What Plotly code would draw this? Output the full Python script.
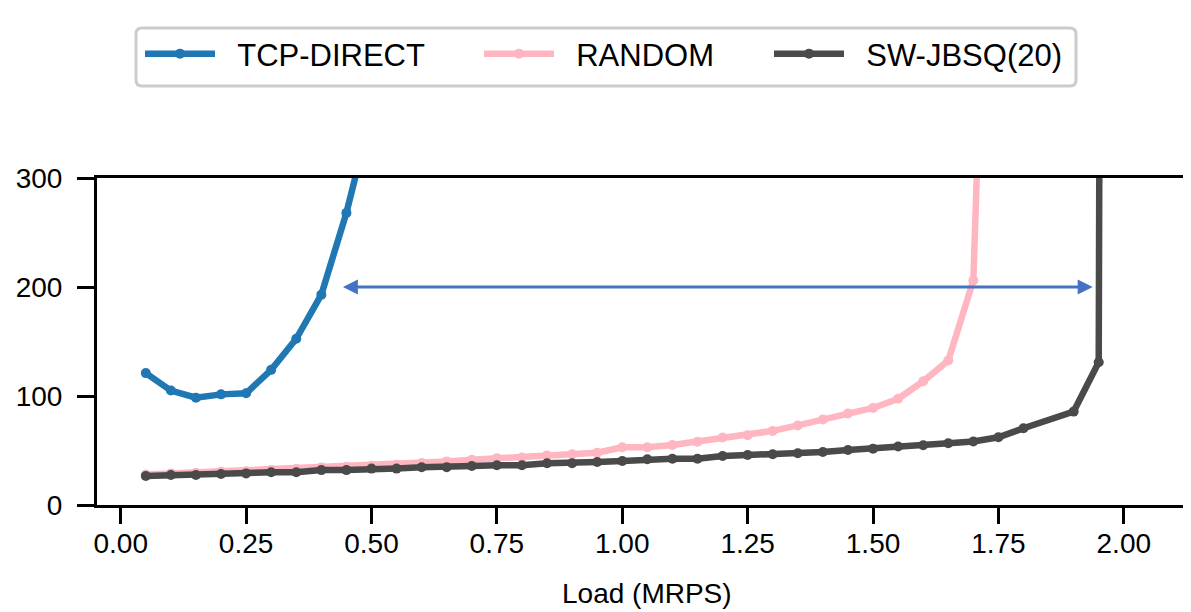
import plotly.graph_objects as go

# ---- data ----
tcp_x = [0.05, 0.10, 0.15, 0.20, 0.25, 0.30, 0.35, 0.40, 0.45, 0.50]
tcp_y = [121, 105, 98.5, 101.5, 102.5, 124, 152.5, 193, 268, 360]

random_x = [0.05, 0.10, 0.15, 0.20, 0.25, 0.30, 0.35, 0.40, 0.45, 0.50,
            0.55, 0.60, 0.65, 0.70, 0.75, 0.80, 0.85, 0.90, 0.95, 1.00,
            1.05, 1.10, 1.15, 1.20, 1.25, 1.30, 1.35, 1.40, 1.45, 1.50,
            1.55, 1.60, 1.65, 1.70, 1.75]
random_y = [28, 29, 29.5, 30.5, 31, 32, 33, 34.5, 35, 36,
            37, 38.5, 40, 41.5, 43, 43.5, 45.5, 46.5, 48, 53,
            53, 55, 58, 62, 64, 68, 73, 78.5, 84, 89,
            97.5, 113.5, 132.5, 206, 900]

jbsq_x = [0.05, 0.10, 0.15, 0.20, 0.25, 0.30, 0.35, 0.40, 0.45, 0.50,
          0.55, 0.60, 0.65, 0.70, 0.75, 0.80, 0.85, 0.90, 0.95, 1.00,
          1.05, 1.10, 1.15, 1.20, 1.25, 1.30, 1.35, 1.40, 1.45, 1.50,
          1.55, 1.60, 1.65, 1.70, 1.75, 1.80, 1.90, 1.95, 2.00]
jbsq_y = [26.6, 27.5, 27.5, 28.5, 29, 30, 30, 32, 32, 33.4,
          33.4, 34.6, 34.6, 35.8, 36.4, 36.4, 38.3, 38.3, 39.5, 40.4,
          41.9, 42.5, 42.5, 45, 45.9, 46.5, 47.4, 48.7, 50.5, 51.7,
          53.6, 54.8, 56.6, 58.2, 62.1, 70.4, 85.7, 131, 8000]

series_names = ["TCP-DIRECT", "RANDOM", "SW-JBSQ(20)"]
series_colors = ["#1f77b4", "#ffb6c1", "#4a4a4a"]

x_ticks = [0.0, 0.25, 0.5, 0.75, 1.0, 1.25, 1.5, 1.75, 2.0]
y_ticks = [0, 100, 200, 300]

arrow_y = 200
arrow_x_start = 0.44
arrow_x_end = 1.938

FONT = "Liberation Sans, Arial, Helvetica, sans-serif"
NB = "\u00a0\u00a0"  # gap between legend symbol and label

# page layout (the HTML body adds an 8px margin around the figure)
OFF = 8
W, H = 1191 - OFF, 612 - OFF
ml = 97 - OFF
mt = 178 - OFF
mr = 0
mb = H - (505 - OFF)
pw = W - ml - mr
ph = H - mt - mb

def px2paper_x(px):   # px in page coordinates
    return (px - OFF - ml) / pw

def py2paper_y(py):   # py in page coordinates
    return (H - mb - (py - OFF)) / ph

fig = go.Figure()
legends = ["legend", "legend2", "legend3"]
for xs, ys, name, col, lg in zip([tcp_x, random_x, jbsq_x],
                                 [tcp_y, random_y, jbsq_y],
                                 series_names, series_colors, legends):
    fig.add_trace(go.Scatter(
        x=xs, y=ys, name=NB + name, mode="lines+markers",
        line=dict(color=col, width=6.5),
        marker=dict(color=col, size=10),
        cliponaxis=True, legend=lg,
    ))

# double-headed arrow
fig.add_annotation(
    x=arrow_x_end, y=arrow_y, ax=arrow_x_start, ay=arrow_y,
    xref="x", yref="y", axref="x", ayref="y",
    text="", showarrow=True, arrowside="end+start",
    arrowhead=2, startarrowhead=2, arrowsize=1, startarrowsize=1,
    arrowwidth=3, arrowcolor="#4472c4",
)

# x axis title placed below ticks
fig.add_annotation(
    x=px2paper_x(647), y=py2paper_y(593), xref="paper", yref="paper",
    text="Load (MRPS)", showarrow=False,
    font=dict(family=FONT, size=28, color="black"),
    xanchor="center", yanchor="middle",
)

# legend frame (rounded rect)
bx0, bx1, by0, by1 = 136, 1076, 28, 86
r = 6
def P(x, y):
    return f"{px2paper_x(x):.5f},{py2paper_y(y):.5f}"
path = (f"M {P(bx0 + r, by0)} L {P(bx1 - r, by0)} Q {P(bx1, by0)} {P(bx1, by0 + r)} "
        f"L {P(bx1, by1 - r)} Q {P(bx1, by1)} {P(bx1 - r, by1)} "
        f"L {P(bx0 + r, by1)} Q {P(bx0, by1)} {P(bx0, by1 - r)} "
        f"L {P(bx0, by0 + r)} Q {P(bx0, by0)} {P(bx0 + r, by0)} Z")
fig.add_shape(type="path", path=path, xref="paper", yref="paper",
              line=dict(color="#cccccc", width=3), fillcolor="rgba(255,255,255,0.8)",
              layer="above")

legend_common = dict(
    orientation="h", xanchor="left", yanchor="middle",
    font=dict(family=FONT, size=31, color="black"),
    bgcolor="rgba(0,0,0,0)", borderwidth=0, itemwidth=70,
)
legend_px = [140, 479, 769]
lay_leg = {}
for lg, lpx in zip(legends, legend_px):
    lay_leg[lg] = dict(legend_common, x=px2paper_x(lpx), y=py2paper_y(54))

fig.update_layout(
    width=W, height=H,
    margin=dict(l=ml, r=mr, t=mt, b=mb, autoexpand=False),
    plot_bgcolor="white", paper_bgcolor="white",
    font=dict(family=FONT, size=28, color="black"),
    showlegend=True,
    **lay_leg,
)

fig.update_xaxes(
    range=[-0.0473, 2.134], tickvals=x_ticks, tickformat=".2f",
    showline=True, linecolor="black", linewidth=3, mirror=True,
    ticks="outside", ticklen=16, tickwidth=3, tickcolor="black",
    showgrid=False, zeroline=False, automargin=False,
    ticklabelstandoff=-5,
    tickfont=dict(family=FONT, size=28, color="black"),
)
fig.update_yaxes(
    range=[0, 300], tickvals=y_ticks,
    showline=True, linecolor="black", linewidth=3, mirror=False,
    ticks="outside", ticklen=17, tickwidth=3, tickcolor="black",
    showgrid=False, zeroline=False, automargin=False,
    ticklabelstandoff=9,
    tickfont=dict(family=FONT, size=28, color="black"),
)

fig.write_html("out.html")
